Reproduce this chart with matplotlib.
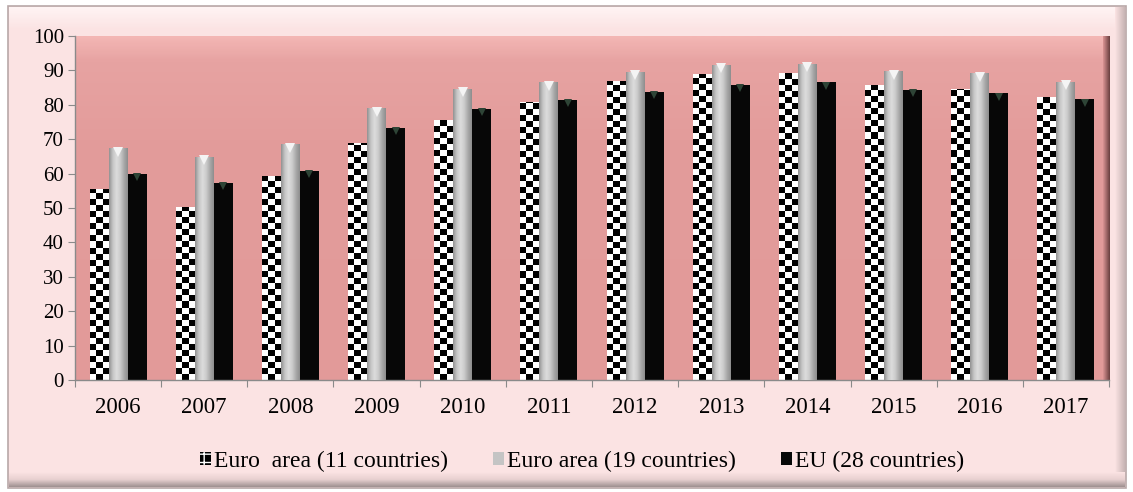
import numpy as np
import matplotlib.pyplot as plt
from matplotlib.patches import Rectangle
from matplotlib.colors import LinearSegmentedColormap, ListedColormap

years = ['2006', '2007', '2008', '2009', '2010', '2011',
         '2012', '2013', '2014', '2015', '2016', '2017']
euro11 = [55.5, 50.4, 59.4, 68.8, 75.6, 80.7, 86.9, 89.0, 89.2, 85.8, 84.6, 82.2]
euro19 = [67.3, 64.9, 68.5, 79.0, 84.6, 86.5, 89.6, 91.6, 92.0, 89.8, 89.2, 86.7]
eu28 = [59.9, 57.4, 60.8, 73.3, 78.8, 81.4, 83.8, 85.8, 86.5, 84.3, 83.3, 81.6]
series_labels = ['Euro  area (11 countries)', 'Euro area (19 countries)',
                 'EU (28 countries)']
yticks = [0, 10, 20, 30, 40, 50, 60, 70, 80, 90, 100]

W, H = 1133, 492
fig = plt.figure(figsize=(W / 100, H / 100), dpi=100)
fig.patch.set_facecolor('white')
serif = ['Liberation Serif', 'DejaVu Serif']

# ---- outer frame drawn in pixel coordinates ----
bg = fig.add_axes([0, 0, 1, 1], zorder=-5)
bg.set_xlim(0, W)
bg.set_ylim(H, 0)
bg.axis('off')
bg.add_patch(Rectangle((8, 6), 1118, 482, facecolor='#fbe3e3',
                       edgecolor='#b8a8a8', lw=1.2))
# top highlight band of the bevel
top_cmap = LinearSegmentedColormap.from_list('top', ['#fff4f4', '#fbe3e3'])
bg.imshow(np.linspace(0, 1, 50).reshape(-1, 1), cmap=top_cmap, aspect='auto',
          extent=[9, 1125, 30, 7], zorder=1)
# bottom shadow of the bevel
sh_cmap = LinearSegmentedColormap.from_list('sh', ['#fbe3e3', '#e8d0d0', '#9e9090'])
bg.imshow(np.linspace(0, 1, 50).reshape(-1, 1), cmap=sh_cmap, aspect='auto',
          extent=[9, 1125, 487, 472], origin='upper', zorder=1)
# right shadow of the bevel
rs_cmap = LinearSegmentedColormap.from_list('rs', ['#fbe3e3', '#c8b5b5'])
bg.imshow(np.linspace(0, 1, 30).reshape(1, -1), cmap=rs_cmap, aspect='auto',
          extent=[1115, 1125, 472, 7], zorder=1)

# ---- plot area ----
left, right, top, bottom = 75, 1109, 36, 380
ax = fig.add_axes([left / W, 1 - bottom / H, (right - left) / W, (bottom - top) / H])
ax.set_facecolor('#e29a99')

n = len(years)
x = np.arange(n)
bw = 0.22

# wall gradient behind the bars: light band at the top
wall_cmap = LinearSegmentedColormap.from_list(
    'wall', [(0.0, '#f3b6b4'), (0.07, '#e7a3a2'), (0.3, '#e39c9b'), (1.0, '#e29a99')])
ax.imshow(np.linspace(0, 1, 300).reshape(-1, 1), cmap=wall_cmap, aspect='auto',
          origin='upper', extent=[-0.5, n - 0.5, 0, 100], zorder=0)
edge_cmap = LinearSegmentedColormap.from_list('edge', ['#d99393', '#6b4040'])
ax.imshow(np.linspace(0, 1, 20).reshape(1, -1), cmap=edge_cmap, aspect='auto',
          extent=[n - 0.5 - 0.07, n - 0.5, 0, 100], zorder=0.5)

# checkered bars
bars1 = ax.bar(x - bw, euro11, bw, color='white', lw=0, zorder=2,
               label=series_labels[0])
checker_cmap = ListedColormap(['white', 'black'])
cell_h = 1.75
for rect in bars1:
    x0, w, h = rect.get_x(), rect.get_width(), rect.get_height()
    nrows = int(np.ceil(h / cell_h))
    grid = (np.add.outer(np.arange(nrows), np.arange(3)) % 2)
    im = ax.imshow(grid, cmap=checker_cmap, interpolation='nearest',
                   aspect='auto', origin='lower',
                   extent=[x0, x0 + w, 0, nrows * cell_h], zorder=2.1)
    im.set_clip_path(rect)

# silver cylinders
bars2 = ax.bar(x, euro19, bw, color='#bdbdbd', lw=0, zorder=3,
               label=series_labels[1])
silver_cmap = LinearSegmentedColormap.from_list(
    'silver', ['#949494', '#c6c6c6', '#dddddd', '#cbcbcb', '#a9a9a9', '#8e8e8e'])
for rect in bars2:
    x0, w, h = rect.get_x(), rect.get_width(), rect.get_height()
    im = ax.imshow(np.linspace(0, 1, 40).reshape(1, -1), cmap=silver_cmap,
                   aspect='auto', extent=[x0, x0 + w, 0, h], zorder=3.1)
    im.set_clip_path(rect)
ax.plot(x, np.array(euro19) - 1.0, linestyle='none', marker='v',
        markersize=6.5, color='#f4f4f4', markeredgewidth=0, zorder=3.2)

# black bars
bars3 = ax.bar(x + bw, eu28, bw, color='#070707', lw=0, zorder=2.5,
               label=series_labels[2])
ax.plot(x + bw, np.array(eu28) - 1.0, linestyle='none', marker='v',
        markersize=6, color='#2e4436', markeredgewidth=0, zorder=2.6)

ax.set_xlim(-0.5, n - 0.5)
ax.set_ylim(0, 100)

# axes styling
for s in ['top', 'right']:
    ax.spines[s].set_visible(False)
for s in ['left', 'bottom']:
    ax.spines[s].set_color('#8a8a8a')
    ax.spines[s].set_linewidth(1.0)

ax.set_yticks(yticks)
ax.set_yticklabels([str(v) for v in yticks], fontfamily=serif, fontsize=15)
ax.tick_params(axis='y', length=5, color='#8a8a8a', pad=3)
ax.set_xticks(np.arange(-0.5, n, 1.0))
ax.set_xticklabels([])
ax.tick_params(axis='x', which='major', length=5, color='#8a8a8a')
ax.set_xticks(x, minor=True)
ax.set_xticklabels(years, minor=True, fontfamily=serif, fontsize=16.5)
ax.tick_params(axis='x', which='minor', length=0, pad=12)

# legend
h1 = Rectangle((0, 0), 1, 1, facecolor='black', edgecolor='white', hatch='++', lw=0)
h2 = Rectangle((0, 0), 1, 1, facecolor='#c4c4c4', lw=0)
h3 = Rectangle((0, 0), 1, 1, facecolor='#070707', lw=0)
fig.legend([h1, h2, h3], series_labels, loc='center',
           bbox_to_anchor=(0.514, 1 - 461 / H), ncol=3, frameon=False,
           prop={'family': serif, 'size': 17}, handlelength=0.45,
           handleheight=0.45, handletextpad=0.15, columnspacing=1.9)

fig.savefig('out.png', dpi=100, facecolor=fig.get_facecolor())
